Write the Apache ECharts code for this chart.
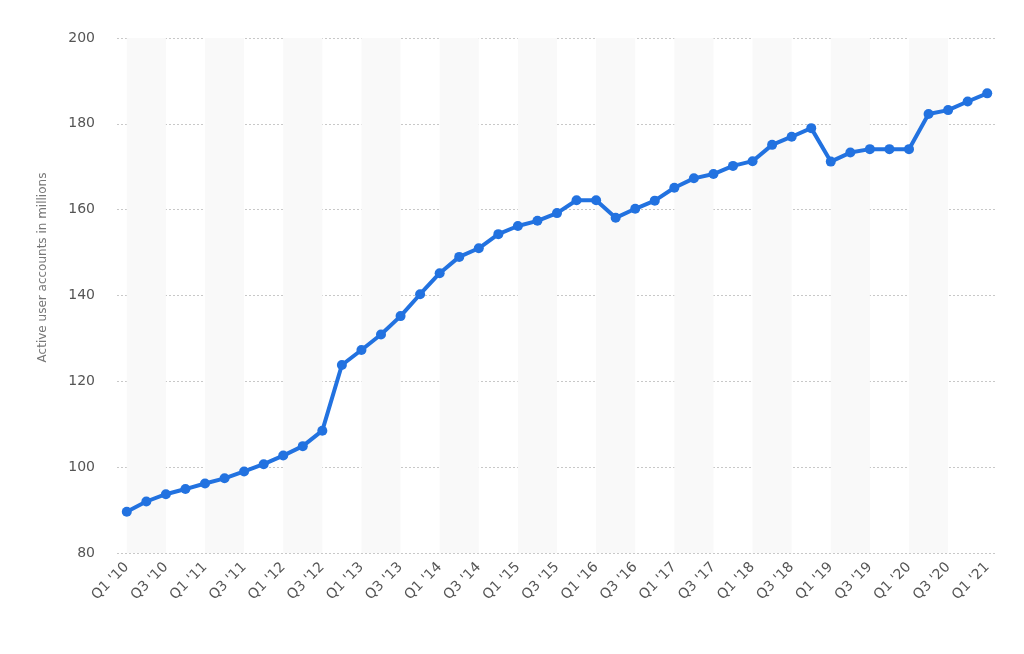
<!DOCTYPE html>
<html>
<head>
<meta charset="utf-8">
<script src="https://cdn.jsdelivr.net/npm/echarts@6/dist/echarts.min.js"></script>
<style>
html,body{margin:0;padding:0;background:#fff;}
#chart{width:1024px;height:654px;}
</style>
</head>
<body>
<div id="chart"></div>
<script>
const categories = [
  "Q1 '10","Q2 '10","Q3 '10","Q4 '10",
  "Q1 '11","Q2 '11","Q3 '11","Q4 '11",
  "Q1 '12","Q2 '12","Q3 '12","Q4 '12",
  "Q1 '13","Q2 '13","Q3 '13","Q4 '13",
  "Q1 '14","Q2 '14","Q3 '14","Q4 '14",
  "Q1 '15","Q2 '15","Q3 '15","Q4 '15",
  "Q1 '16","Q2 '16","Q3 '16","Q4 '16",
  "Q1 '17","Q2 '17","Q3 '17","Q4 '17",
  "Q1 '18","Q2 '18","Q3 '18","Q4 '18",
  "Q1 '19","Q2 '19","Q3 '19","Q4 '19",
  "Q1 '20","Q2 '20","Q3 '20","Q4 '20",
  "Q1 '21"
];
const activeUsers = [
  89.6, 92.0, 93.7, 94.9,
  96.2, 97.4, 99.0, 100.7,
  102.7, 104.9, 108.5, 123.8,
  127.3, 130.9, 135.2, 140.3,
  145.2, 149.0, 151.0, 154.3,
  156.2, 157.4, 159.2, 162.2,
  162.2, 158.1, 160.2, 162.1,
  165.1, 167.3, 168.3, 170.2,
  171.3, 175.1, 177.0, 179.0,
  171.2, 173.3, 174.1, 174.1,
  174.1, 182.3, 183.2, 185.2,
  187.1
];
const yAxisTitle = "Active user accounts in millions";

// shaded bands: from Q1 to Q3 of each year
const bands = [];
for (let i = 0; i + 2 < categories.length; i += 4) {
  bands.push([{ xAxis: categories[i] }, { xAxis: categories[i + 2] }]);
}

const chart = echarts.init(document.getElementById('chart'));
chart.setOption({
  animation: false,
  backgroundColor: '#ffffff',
  grid: { left: 117, right: 27, top: 38, bottom: 101 },
  xAxis: {
    type: 'category',
    data: categories,
    boundaryGap: true,
    axisLine: { show: false },
    axisTick: { show: false },
    axisLabel: {
      interval: 1,
      rotate: 45,
      margin: 12,
      color: '#555',
      fontSize: 14,
      fontFamily: 'DejaVu Sans'
    },
    splitLine: { show: false }
  },
  yAxis: {
    type: 'value',
    min: 80,
    max: 200,
    interval: 20,
    name: yAxisTitle,
    nameLocation: 'middle',
    nameGap: 68,
    nameTextStyle: { color: '#777', fontSize: 12, fontFamily: 'DejaVu Sans', padding: [0, 0, 0, 56] },
    axisLine: { show: false },
    axisTick: { show: false },
    axisLabel: { color: '#555', fontSize: 14, margin: 22, fontFamily: 'DejaVu Sans' },
    splitLine: { lineStyle: { color: '#c8c8c8', type: [2, 2], width: 1 } }
  },
  series: [{
    type: 'line',
    data: activeUsers,
    symbol: 'circle',
    symbolSize: 10,
    lineStyle: { color: '#2272e0', width: 4 },
    itemStyle: { color: '#2272e0' },
    z: 3,
    markArea: {
      silent: true,
      itemStyle: { color: '#f9f9f9' },
      data: bands
    }
  }]
});
</script>
</body>
</html>
